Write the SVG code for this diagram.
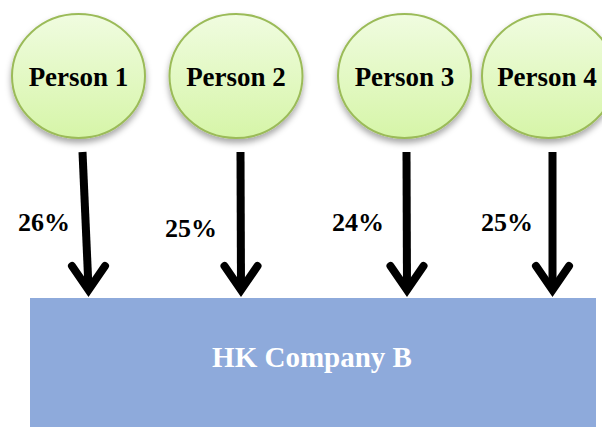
<svg xmlns="http://www.w3.org/2000/svg" width="602" height="427" viewBox="0 0 602 427">
<defs>
<linearGradient id="g" x1="0" y1="0" x2="0" y2="1">
<stop offset="0" stop-color="#F0FCE0"/>
<stop offset="1" stop-color="#D6F5A8"/>
</linearGradient>
<filter id="sh" x="-20%" y="-20%" width="140%" height="150%">
<feDropShadow dx="0" dy="4" stdDeviation="3" flood-color="#000" flood-opacity="0.35"/>
</filter>
</defs>
<style>
.p{fill:url(#g);stroke:#9BBB59;stroke-width:2;filter:url(#sh)}
text{font-family:'Liberation Serif','Times New Roman','DejaVu Serif',serif;font-weight:bold}
.pt{font-size:27px;fill:#000;text-anchor:middle}
.pc{font-size:26px;fill:#000}
.ct{font-size:29px;fill:#fff;text-anchor:middle}
.ln{stroke:#000;stroke-width:8;fill:none}
.hd{stroke:#000;stroke-width:8;fill:none;stroke-linejoin:miter;stroke-linecap:round}
</style>
<rect width="602" height="427" fill="#fff"/>
<g id="company">
<rect x="30" y="298" width="566" height="129" fill="#8EAADB"/>
<text class="ct" x="312" y="367">HK Company B</text>
</g>
<g id="person1"><ellipse class="p" cx="78.5" cy="76" rx="66.5" ry="62"/><text class="pt" x="78.5" y="86">Person 1</text></g>
<g id="person2"><ellipse class="p" cx="236" cy="76" rx="66.5" ry="62"/><text class="pt" x="236" y="86">Person 2</text></g>
<g id="person3"><ellipse class="p" cx="404.5" cy="76" rx="66.5" ry="62"/><text class="pt" x="404.5" y="86">Person 3</text></g>
<g id="person4"><ellipse class="p" cx="548.5" cy="76" rx="66.5" ry="62"/><text class="pt" x="547" y="86">Person 4</text></g>
<g id="connectors">
<line class="ln" x1="82.5" y1="152" x2="88.5" y2="288"/>
<polyline class="hd" points="72,266 88.5,290 105,266"/>
<line class="ln" x1="240.5" y1="152" x2="241" y2="288"/>
<polyline class="hd" points="224.5,266 241,290 257.5,266"/>
<line class="ln" x1="406.5" y1="152" x2="407" y2="288"/>
<polyline class="hd" points="390.5,266 407,290 423.5,266"/>
<line class="ln" x1="552.5" y1="152" x2="552.5" y2="288"/>
<polyline class="hd" points="536,266 552.5,290 569,266"/>
</g>
<g id="labels">
<text class="pc" x="18" y="231">26%</text>
<text class="pc" x="165" y="237">25%</text>
<text class="pc" x="332" y="231">24%</text>
<text class="pc" x="481" y="231">25%</text>
</g>
</svg>
